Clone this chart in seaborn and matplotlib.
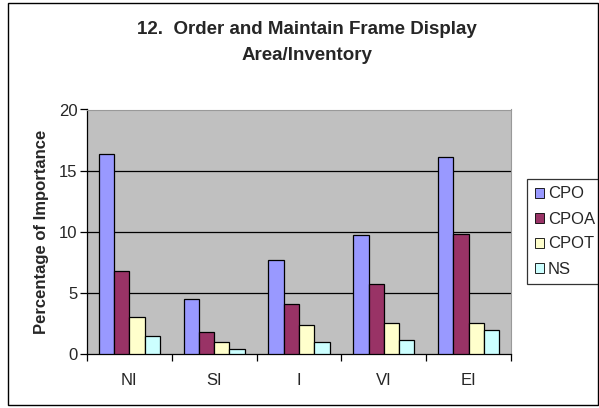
import matplotlib
matplotlib.use("Agg")
import matplotlib.pyplot as plt
from matplotlib.patches import Rectangle
import seaborn as sns
import pandas as pd

categories = ["NI", "SI", "I", "VI", "EI"]
series = ["CPO", "CPOA", "CPOT", "NS"]
cpo = [16.4, 4.5, 7.7, 9.7, 16.1]
cpoa = [6.8, 1.8, 4.1, 5.7, 9.8]
cpot = [3.0, 0.95, 2.4, 2.5, 2.5]
ns = [1.45, 0.4, 0.95, 1.15, 2.0]
colors = ["#9999FF", "#993366", "#FFFFCC", "#CCFFFF"]

df = pd.DataFrame({
    "category": categories * 4,
    "series": sum([[s] * len(categories) for s in series], []),
    "value": cpo + cpoa + cpot + ns,
})

sns.set_style("white")
plt.rcParams["font.family"] = ["Liberation Sans", "DejaVu Sans"]

fig = plt.figure(figsize=(5.99, 4.08), dpi=100)
ax = fig.add_axes([87 / 599, 1 - 354 / 408, 424 / 599, 244.5 / 408])
ax.set_facecolor("#C0C0C0")

sns.barplot(data=df, x="category", y="value", hue="series", order=categories,
            hue_order=series, palette=colors, width=0.72, saturation=1,
            edgecolor="black", linewidth=0.9, ax=ax, zorder=3)

ax.set_ylim(0, 20)
ax.set_xlim(-0.5, 4.5)
ax.set_yticks([0, 5, 10, 15, 20])
ax.set_yticklabels(["0", "5", "10", "15", "20"])
for y in [5, 10, 15]:
    ax.axhline(y, color="black", linewidth=0.9, zorder=1)

ax.set_xlabel("")
ax.set_ylabel("Percentage of Importance", fontsize=12, fontweight="bold", labelpad=7)
ax.tick_params(axis="y", direction="out", length=5, width=0.9, color="black",
               labelsize=12, pad=2, left=True)
ax.tick_params(axis="x", which="major", length=0, labelsize=12, pad=14)
ax.set_xticks([-0.5, 0.5, 1.5, 2.5, 3.5, 4.5], minor=True)
ax.tick_params(axis="x", which="minor", direction="out", length=5, width=0.9,
               color="black", bottom=True)

for side in ["left", "bottom"]:
    ax.spines[side].set_color("black")
    ax.spines[side].set_linewidth(0.9)
for side in ["top", "right"]:
    ax.spines[side].set_color("#999999")
    ax.spines[side].set_linewidth(0.8)

leg = ax.legend(title=None, loc="upper left", bbox_to_anchor=(527 / 599, 1 - 179 / 408),
                bbox_transform=fig.transFigure, frameon=True, fancybox=False,
                fontsize=12, handlelength=0.55, handleheight=0.55, handletextpad=0.25,
                labelspacing=0.6, borderpad=0.45, borderaxespad=0)
leg.get_frame().set_edgecolor("black")
leg.get_frame().set_linewidth(0.9)
for h in leg.legend_handles:
    h.set_edgecolor("black")
    h.set_linewidth(0.6)

fig.text(307 / 599, 1 - 30 / 408, "12.  Order and Maintain Frame Display",
         ha="center", va="center", fontsize=13.5, fontweight="bold")
fig.text(307 / 599, 1 - 55 / 408, "Area/Inventory",
         ha="center", va="center", fontsize=13.5, fontweight="bold")

fig.patches.append(Rectangle((8 / 599, 1 - 405 / 408), 590 / 599, 402 / 408,
                             transform=fig.transFigure, fill=False,
                             edgecolor="black", linewidth=1.0))

fig.savefig("out.png", dpi=100)
